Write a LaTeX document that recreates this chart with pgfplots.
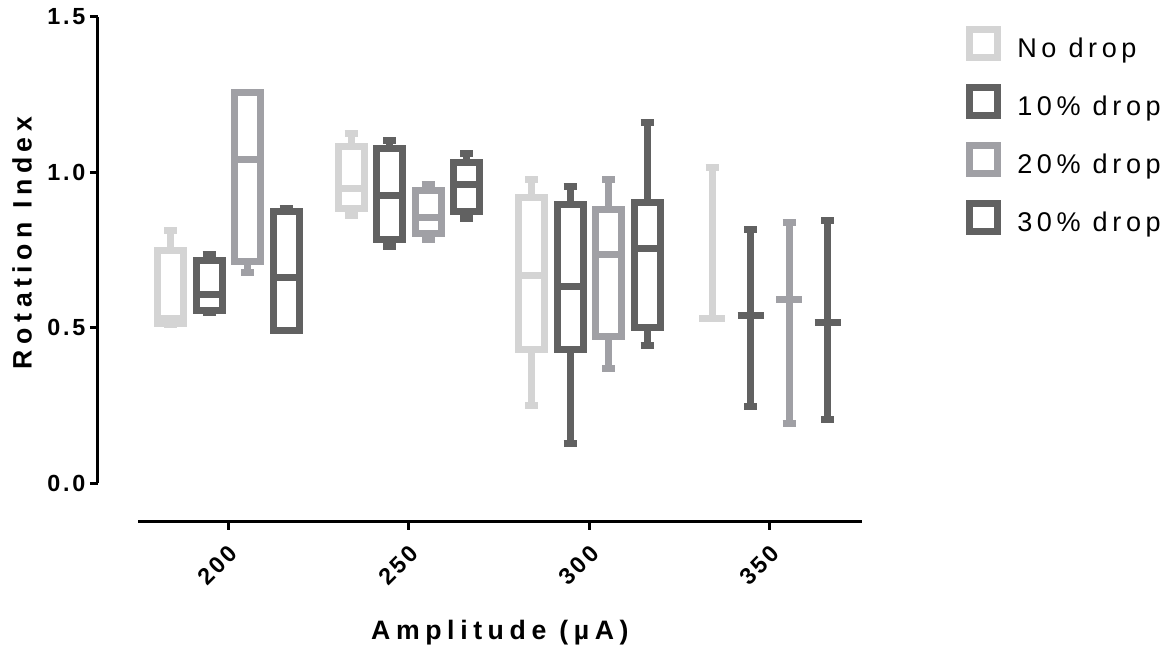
\documentclass[border=0pt]{standalone}
\usepackage{fontspec}
\setmainfont{Liberation Sans}
\newfontfamily\tickfam[LetterSpace=12]{Liberation Sans}
\newfontfamily\labfam[LetterSpace=21]{Liberation Sans}
\newfontfamily\legfam[LetterSpace=17]{Liberation Sans}
\usepackage{pgfplots}
\pgfplotsset{compat=1.18}
\definecolor{cnone}{HTML}{D4D4D4}
\definecolor{cten}{HTML}{616161}
\definecolor{ctwenty}{HTML}{A0A0A5}
\definecolor{cthirty}{HTML}{616161}
% box: colour, position, low whisker, q1, median, q3, high whisker
\newcommand\bxp[7]{%
  \addplot[#1, line width=5.25pt, x filter/.expression={x+#2}]
    coordinates {(-3.6,#4) (3.6,#4) (3.6,#6) (-3.6,#6)} -- cycle;
  \addplot[#1, line width=5.25pt, x filter/.expression={x+#2}]
    coordinates {(-3.6,#5) (3.6,#5)};
  \addplot[#1, line width=5.25pt, x filter/.expression={x+#2}, unbounded coords=jump]
    coordinates {(0,#3) (0,#4) (nan,nan) (0,#6) (0,#7) (nan,nan)
                 (-1.8,#3) (1.8,#3) (nan,nan) (-1.8,#7) (1.8,#7)};
}
% no box drawn: colour, position, low whisker, median, high whisker
\newcommand\wsk[5]{%
  \addplot[#1, line width=5.25pt, x filter/.expression={x+#2}]
    coordinates {(-3.6,#4) (3.6,#4)};
  \addplot[#1, line width=5.25pt, x filter/.expression={x+#2}, unbounded coords=jump]
    coordinates {(0,#3) (0,#5) (nan,nan)
                 (-1.8,#3) (1.8,#3) (nan,nan) (-1.8,#5) (1.8,#5)};
}
\begin{document}
\begin{tikzpicture}
\path[use as bounding box] (-73.5pt,-95.25pt) rectangle (807pt,391.5pt);
\begin{axis}[
  at={(0,0)}, anchor=south west,
  width=573pt, height=378.75pt, scale only axis,
  xmin=163.9, xmax=375.5, ymin=-0.1255, ymax=1.5,
  axis x line*=bottom, axis y line*=left,
  x axis line style={shorten <=30pt},
  y axis line style={shorten <=29.25pt},
  axis line style={line width=2.25pt, -},
  xtick={200,250,300,350}, xticklabels={200,250,300,350},
  ytick={0,0.5,1,1.5}, yticklabels={0.0,0.5,1.0,1.5},
  tick align=outside, major tick length=6pt,
  tick style={line width=2.25pt, black},
  ticklabel style={font=\tickfam\bfseries\fontsize{17.5}{20}\selectfont},
  xticklabel style={rotate=45, anchor=east, yshift=-13pt, xshift=-4pt},
  xlabel={Amplitude (µA)}, ylabel={Rotation Index},
  label style={font=\labfam\bfseries\fontsize{20}{23}\selectfont},
  xlabel style={at={(axis description cs:0.526,-0.2198)}, anchor=center},
  ylabel style={at={(axis description cs:-0.0995,0.5525)}, anchor=center},
  clip=false,
]
% 200 uA
\bxp{cnone}{184}{0.51}{0.513}{0.53}{0.748}{0.814}
\bxp{cten}{194.67}{0.55}{0.554}{0.608}{0.716}{0.734}
\bxp{ctwenty}{205.33}{0.676}{0.714}{1.040}{1.257}{1.257}
\bxp{cthirty}{216}{0.49}{0.491}{0.663}{0.874}{0.884}
% 250 uA
\bxp{cnone}{234}{0.862}{0.883}{0.949}{1.083}{1.125}
\bxp{cten}{244.67}{0.760}{0.784}{0.925}{1.078}{1.102}
\bxp{ctwenty}{255.33}{0.785}{0.803}{0.856}{0.941}{0.962}
\bxp{cthirty}{266}{0.851}{0.874}{0.962}{1.033}{1.062}
% 300 uA
\bxp{cnone}{284}{0.251}{0.430}{0.669}{0.919}{0.978}
\bxp{cten}{294.67}{0.126}{0.430}{0.631}{0.896}{0.956}
\bxp{ctwenty}{305.33}{0.367}{0.472}{0.734}{0.880}{0.977}
\bxp{cthirty}{316}{0.441}{0.500}{0.756}{0.904}{1.159}
% 350 uA
\wsk{cnone}{334}{0.528}{0.531}{1.017}
\wsk{cten}{344.67}{0.245}{0.539}{0.816}
\wsk{ctwenty}{355.33}{0.193}{0.592}{0.840}
\wsk{cthirty}{366}{0.203}{0.518}{0.846}
\end{axis}
% legend
\begin{scope}[line width=5.25pt]
\draw[cnone]   (653.6pt,348pt) rectangle ++(21pt,21pt);
\draw[cten]    (653.6pt,304.73pt) rectangle ++(21pt,21pt);
\draw[ctwenty] (653.6pt,261.46pt) rectangle ++(21pt,21pt);
\draw[cthirty] (653.6pt,218.19pt) rectangle ++(21pt,21pt);
\end{scope}
\begin{scope}[every node/.style={anchor=base west, inner sep=0pt,
    font=\legfam\fontsize{20.3}{24}\selectfont}]
\node at (689.25pt,348pt) {No drop};
\node at (689.25pt,304.73pt) {10\% drop};
\node at (689.25pt,261.46pt) {20\% drop};
\node at (689.25pt,218.19pt) {30\% drop};
\end{scope}
\end{tikzpicture}
\end{document}
